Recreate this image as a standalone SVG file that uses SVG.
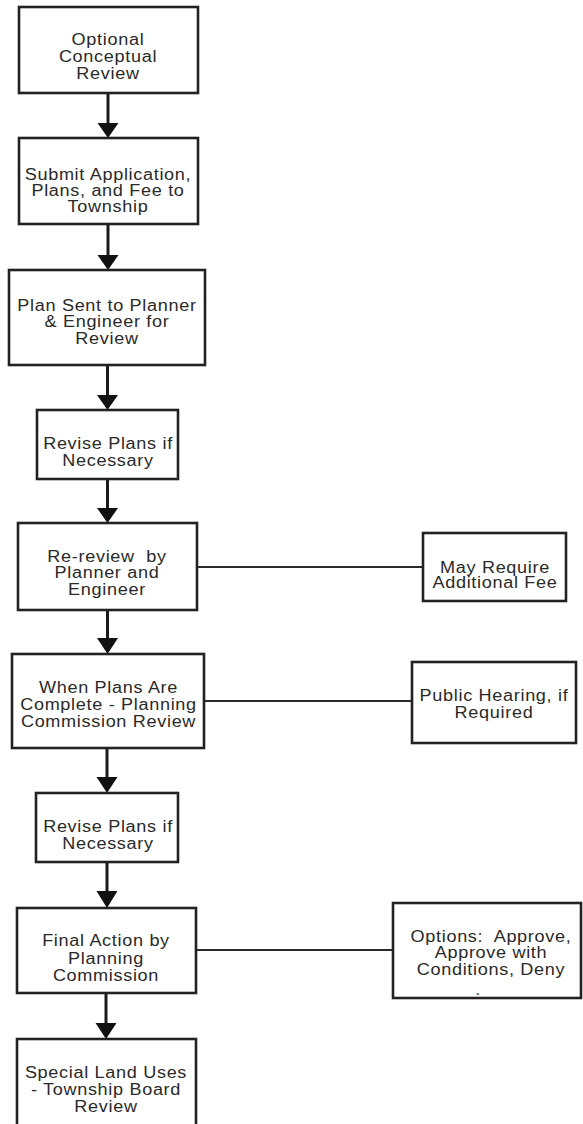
<svg xmlns="http://www.w3.org/2000/svg" width="583" height="1124" viewBox="0 0 583 1124">
<style>
.box{fill:#fff;stroke:#222;stroke-width:2.6}
.t{font-family:"Liberation Sans",Arial,sans-serif;font-size:16px;fill:#2a2a2a;text-anchor:middle;letter-spacing:0.6px}
.v{stroke:#1a1a1a;stroke-width:3;fill:none}
.h{stroke:#2a2a2a;stroke-width:2;fill:none}
.ah{fill:#111}
</style>
<rect width="583" height="1124" fill="#fff"/>
<g id="connectors">
<line class="v" x1="108" y1="93" x2="108" y2="125"/><polygon class="ah" points="97.5,123 118.5,123 108,138"/>
<line class="v" x1="108" y1="224" x2="108" y2="257"/><polygon class="ah" points="97.5,255 118.5,255 108,270"/>
<line class="v" x1="107.5" y1="365" x2="107.5" y2="397"/><polygon class="ah" points="97,395 118,395 107.5,410"/>
<line class="v" x1="107.5" y1="479" x2="107.5" y2="510"/><polygon class="ah" points="97,508 118,508 107.5,523"/>
<line class="v" x1="107.5" y1="610" x2="107.5" y2="640"/><polygon class="ah" points="97,638 118,638 107.5,654"/>
<line class="v" x1="107" y1="748" x2="107" y2="779"/><polygon class="ah" points="96.5,777 117.5,777 107,793"/>
<line class="v" x1="107" y1="862" x2="107" y2="893"/><polygon class="ah" points="96.5,891 117.5,891 107,908"/>
<line class="v" x1="106" y1="993" x2="106" y2="1025"/><polygon class="ah" points="95.5,1023 116.5,1023 106,1039"/>
<line class="h" x1="197" y1="567" x2="423" y2="567"/>
<line class="h" x1="204" y1="701" x2="412" y2="701"/>
<line class="h" x1="196" y1="950" x2="393" y2="950"/>
</g>
<g id="n1"><rect class="box" x="19" y="7" width="179" height="86"/>
<text class="t" transform="matrix(1.13 0 0 1 -14.04 0)" x="108" y="45">Optional</text>
<text class="t" transform="matrix(1.13 0 0 1 -14.04 0)" x="108" y="62">Conceptual</text>
<text class="t" transform="matrix(1.13 0 0 1 -14.04 0)" x="108" y="79">Review</text></g>
<g id="n2"><rect class="box" x="19" y="138" width="179" height="86"/>
<text class="t" transform="matrix(1.13 0 0 1 -14.04 0)" x="108" y="180">Submit Application,</text>
<text class="t" transform="matrix(1.13 0 0 1 -14.04 0)" x="108" y="196">Plans, and Fee to</text>
<text class="t" transform="matrix(1.13 0 0 1 -14.04 0)" x="108" y="212">Township</text></g>
<g id="n3"><rect class="box" x="9" y="270" width="196" height="95"/>
<text class="t" transform="matrix(1.13 0 0 1 -13.91 0)" x="107" y="311">Plan Sent to Planner</text>
<text class="t" transform="matrix(1.13 0 0 1 -13.91 0)" x="107" y="327">&amp; Engineer for</text>
<text class="t" transform="matrix(1.13 0 0 1 -13.91 0)" x="107" y="344">Review</text></g>
<g id="n4"><rect class="box" x="37" y="410" width="141" height="69"/>
<text class="t" transform="matrix(1.13 0 0 1 -14.04 0)" x="108" y="449">Revise Plans if</text>
<text class="t" transform="matrix(1.13 0 0 1 -14.04 0)" x="108" y="466">Necessary</text></g>
<g id="n5"><rect class="box" x="18" y="523" width="179" height="87"/>
<text class="t" xml:space="preserve" transform="matrix(1.13 0 0 1 -13.91 0)" x="107" y="562">Re-review  by</text>
<text class="t" transform="matrix(1.13 0 0 1 -13.91 0)" x="107" y="578">Planner and</text>
<text class="t" transform="matrix(1.13 0 0 1 -13.91 0)" x="107" y="595">Engineer</text></g>
<g id="n5b"><rect class="box" x="423" y="533" width="143" height="68"/>
<text class="t" transform="matrix(1.13 0 0 1 -64.35 0)" x="495" y="573">May Require</text>
<text class="t" transform="matrix(1.13 0 0 1 -64.35 0)" x="495" y="588">Additional Fee</text></g>
<g id="n6"><rect class="box" x="12" y="654" width="192" height="94"/>
<text class="t" transform="matrix(1.13 0 0 1 -14.1 0)" x="108.5" y="693">When Plans Are</text>
<text class="t" transform="matrix(1.13 0 0 1 -14.1 0)" x="108.5" y="710">Complete - Planning</text>
<text class="t" transform="matrix(1.13 0 0 1 -14.1 0)" x="108.5" y="727">Commission Review</text></g>
<g id="n6b"><rect class="box" x="412" y="662" width="164" height="81"/>
<text class="t" transform="matrix(1.13 0 0 1 -64.22 0)" x="494" y="701">Public Hearing, if</text>
<text class="t" transform="matrix(1.13 0 0 1 -64.22 0)" x="494" y="718">Required</text></g>
<g id="n7"><rect class="box" x="36" y="793" width="142" height="69"/>
<text class="t" transform="matrix(1.13 0 0 1 -14.04 0)" x="108" y="832">Revise Plans if</text>
<text class="t" transform="matrix(1.13 0 0 1 -14.04 0)" x="108" y="849">Necessary</text></g>
<g id="n8"><rect class="box" x="17" y="908" width="179" height="85"/>
<text class="t" transform="matrix(1.13 0 0 1 -13.78 0)" x="106" y="946">Final Action by</text>
<text class="t" transform="matrix(1.13 0 0 1 -13.78 0)" x="106" y="964">Planning</text>
<text class="t" transform="matrix(1.13 0 0 1 -13.78 0)" x="106" y="981">Commission</text></g>
<g id="n8b"><rect class="box" x="393" y="903" width="188" height="95"/>
<text class="t" xml:space="preserve" transform="matrix(1.13 0 0 1 -63.83 0)" x="491" y="942">Options:  Approve,</text>
<text class="t" transform="matrix(1.13 0 0 1 -63.83 0)" x="491" y="958">Approve with</text>
<text class="t" transform="matrix(1.13 0 0 1 -63.83 0)" x="491" y="975">Conditions, Deny</text>
<text class="t" x="478" y="995">.</text></g>
<g id="n9"><rect class="box" x="17" y="1039" width="179" height="90"/>
<text class="t" transform="matrix(1.13 0 0 1 -13.78 0)" x="106" y="1078">Special Land Uses</text>
<text class="t" transform="matrix(1.13 0 0 1 -13.78 0)" x="106" y="1095">- Township Board</text>
<text class="t" transform="matrix(1.13 0 0 1 -13.78 0)" x="106" y="1112">Review</text></g>
</svg>
